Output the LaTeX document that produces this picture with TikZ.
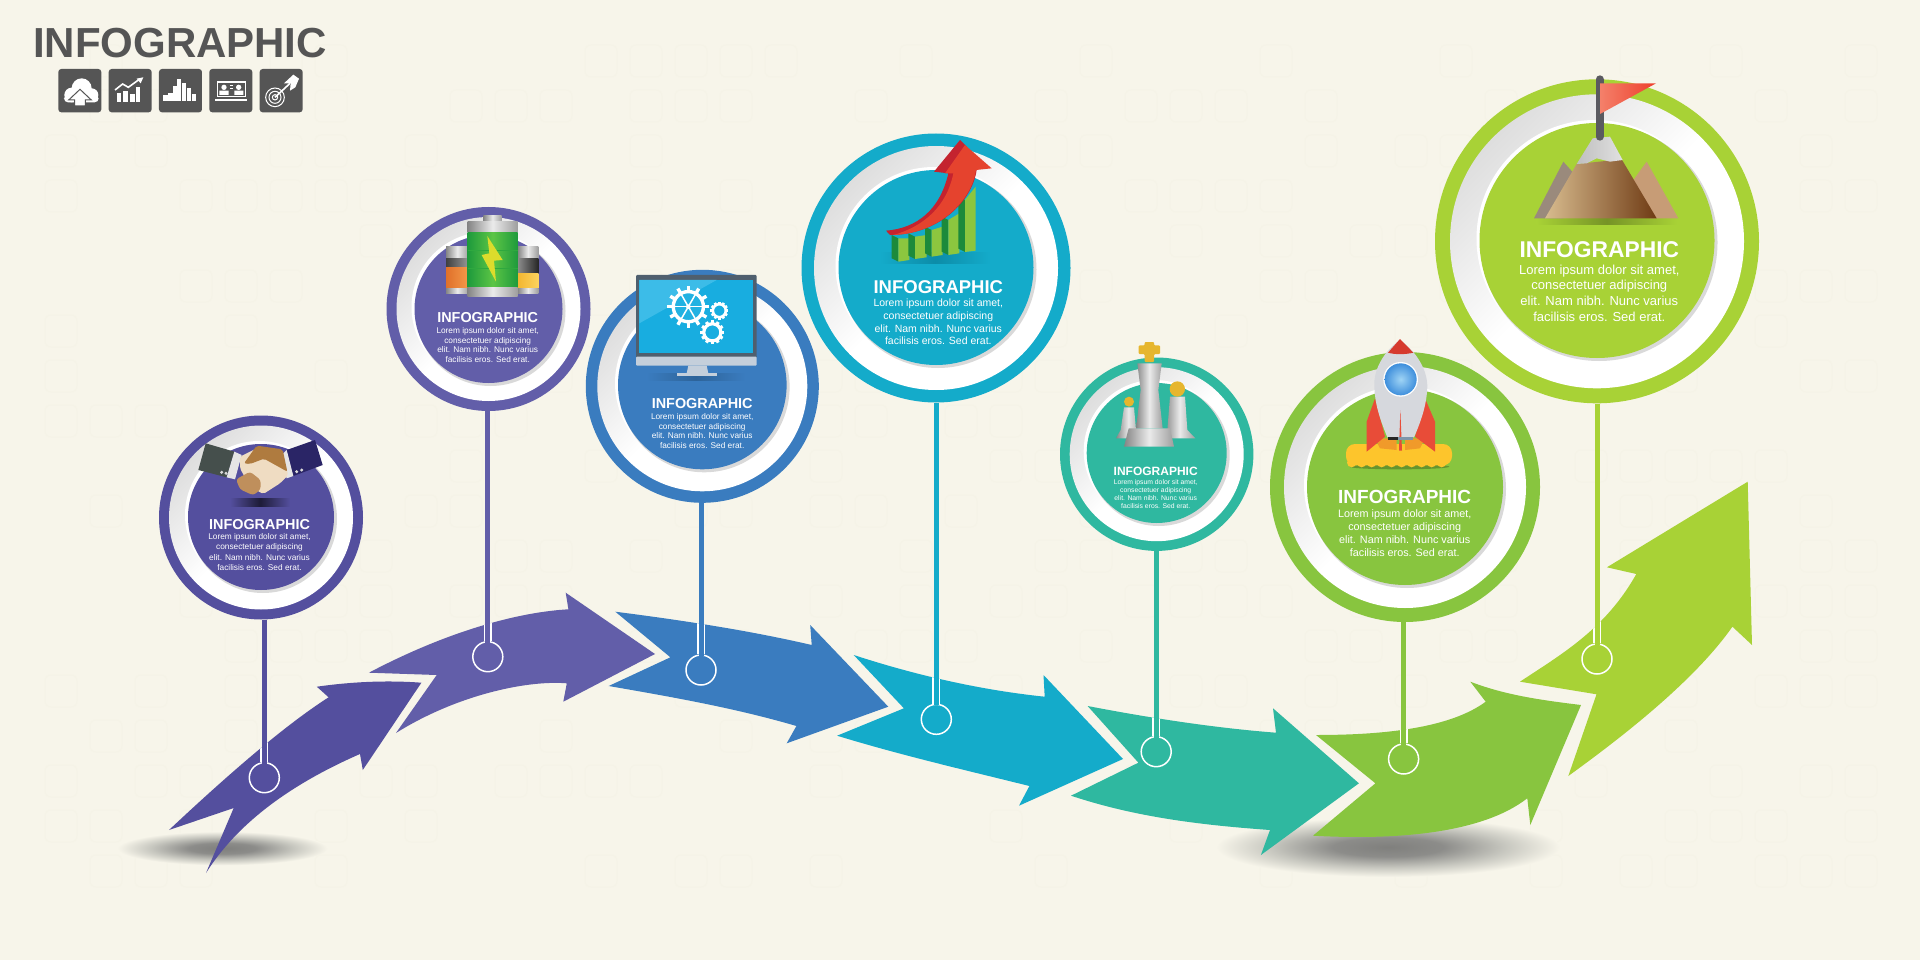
\documentclass[tikz,border=0pt]{standalone}
\usepackage{fontspec}
\setmainfont{Liberation Sans}
\usetikzlibrary{calc}
\definecolor{bgc}{HTML}{F7F5EA}
\definecolor{patc}{HTML}{F5F3E7}
\definecolor{iconc}{HTML}{555555}
\definecolor{colA}{HTML}{544F9E}
\definecolor{colB}{HTML}{625EA9}
\definecolor{colC}{HTML}{3A7CBF}
\definecolor{colD}{HTML}{14ABCA}
\definecolor{colE}{HTML}{2FB8A0}
\definecolor{colF}{HTML}{88C53F}
\definecolor{colG}{HTML}{A8D236}
\newcommand{\hc}[1]{\definecolor{h#1}{HTML}{#1}}
\hc{454F4C}\hc{2A2566}\hc{EFDCC2}\hc{AF7B3F}\hc{BF8F5C}\hc{E0702A}\hc{F49A4A}\hc{F2B630}\hc{FCD35E}\hc{1E9A3C}\hc{5CC545}\hc{2FA83F}\hc{DCDC2C}\hc{2D6399}\hc{C4CFDB}\hc{4F5F6E}\hc{18ADE0}\hc{3CBCE8}\hc{22B2E2}\hc{0C8CA8}\hc{1C8A3B}\hc{8CC63F}\hc{C4232F}\hc{E5432E}\hc{E6B62E}\hc{FDC52C}\hc{F09A2A}\hc{E84C38}\hc{D6D8DD}\hc{D63A2E}\hc{9FD4F5}\hc{3F8FDC}\hc{7E95AA}\hc{9A8A7C}\hc{C79C76}\hc{D8BC8F}\hc{9A6D3E}\hc{6F3B14}\hc{5A5A60}\hc{F4806A}\hc{EE3F2C}
\pgfdeclareradialshading{softshadow}{\pgfpointorigin}{rgb(0bp)=(0.50,0.50,0.49);rgb(8bp)=(0.55,0.55,0.54);rgb(17bp)=(0.78,0.78,0.75);rgb(25bp)=(0.969,0.961,0.918);rgb(50bp)=(0.969,0.961,0.918)}
\tikzset{
  disc/.style={circle,inner sep=0pt,fill=#1},
  endring/.style={circle,inner sep=0pt,minimum size=30pt,draw=white,line width=1.5pt,fill=#1},
  silver/.style={left color=black!48,right color=black!38,middle color=black!8},
  headtxt/.style={text=white,inner sep=0pt,align=center},
  squarebox/.style={fill=iconc,rounded corners=3pt},
}
\newcommand{\arrA}{(169,830)--(233.7,808)--(206,873) .. controls (237,824) and (289,785) .. (360,754)--(362.8,770)--(421.4,682.7) .. controls (385,680) and (350,682) .. (316.8,686.7)--(328.6,697.3) .. controls (287,724) and (234,769) .. cycle}
\newcommand{\arrB}{(368.9,672.7)--(436.7,675)--(396,733) .. controls (455,696) and (525,680) .. (566.8,683.3)--(563.3,701.7)--(655,654)--(565.7,592.7)--(568.4,609.3) .. controls (520,612) and (450,630) .. cycle}
\newcommand{\arrC}{(615.3,611.7)--(670.4,657.3)--(608.7,686) .. controls (672,697) and (735,708) .. (796.4,726)--(786.7,743.3)--(888.3,706.7)--(810.2,625)--(811.7,645) .. controls (747,630) and (680,620) .. cycle}
\newcommand{\arrD}{(853.7,655)--(903.9,708.3)--(837.1,735.7) .. controls (900,755) and (965,770) .. (1029.4,786)--(1019,805.7)--(1123,759)--(1043.5,675)--(1044.7,696.7) .. controls (980,690) and (915,675) .. cycle}
\newcommand{\arrE}{(1087.6,706)--(1138.4,762.7)--(1071,795.7) .. controls (1135,817) and (1200,825) .. (1270,830)--(1260.9,855)--(1358.9,783.3)--(1273,708.3)--(1276,732.7) .. controls (1215,728) and (1150,718) .. cycle}
\newcommand{\arrF}{(1316,735)--(1375.4,783.3)--(1313,835.7) .. controls (1390,840) and (1480,835) .. (1527.3,798.3)--(1530.3,825)--(1581,705) .. controls (1540,700) and (1505,695) .. (1470.3,681.7)--(1485.7,701.7) .. controls (1450,728) and (1385,735) .. cycle}
\newcommand{\arrG}{(1520,681.7)--(1596.5,694.3)--(1568.3,776) .. controls (1625,735) and (1695,680) .. (1732.4,626.7)--(1752,645)--(1747.7,481.7)--(1606.9,567.3)--(1636.3,574) .. controls (1605,630) and (1560,655) .. cycle}
% ring and disc: name, x, y, R outer, R white, R inner, colour, inner y
\newcommand{\cardring}[8]{%
  \node[disc=#7,minimum size=#4*2pt] (#1) at (#2,#3) {};
  \shade[top color=black!13,bottom color=white,middle color=white,shading angle=45] (#2,#3) circle (#5);
  \fill[white] (#2-2,#8-2) circle (#6+1);
  \fill[black!15] (#2+2,#8+2) circle (#6+1);
  \fill[#7] (#2,#8) circle (#6);
}
% texts: id, x, y head, size head, y body, size body, leading
\newcommand{\cardtext}[7]{%
  \node[headtxt,font={\bfseries\fontsize{#4}{#4}\selectfont}] (h#1) at (#2,#3) {INFOGRAPHIC};
  \node[text=white,inner sep=0pt,align=center,font={\fontsize{#6}{#7}\selectfont}] (b#1) at (#2,#5) {Lorem ipsum dolor sit amet,\\consectetuer adipiscing\\elit. Nam nibh. Nunc varius\\facilisis eros. Sed erat.};
}
\newcommand{\stem}[4]{%
  \begin{scope}\clip #4; \draw[white,line width=8pt] (#2.north |- #1.south) -- (#2.north); \end{scope}
  \draw[#3,line width=5pt,shorten >=-1.6pt] (#2.north |- #1.south) -- (#2.north);
}
% gear: x y r linewidth fill
\newcommand{\gear}[5]{%
  \foreach \a in {0,30,...,330}{\draw[white,line width=#4pt] ($(#1,#2)+(\a:#3*0.8)$) -- ($(#1,#2)+(\a:#3*1.08)$);}
  \draw[white,line width=#4pt,fill=#5] (#1,#2) circle (#3*0.78);
}
\begin{document}
\begin{tikzpicture}[x=1pt,y=-1pt]
\path[use as bounding box] (0,0) rectangle (1920,960);
\fill[bgc] (0,0) rectangle (1920,960);
% faint background pattern
\pgfmathsetseed{5}
\foreach \i in {1,...,41}{\foreach \j in {1,...,19}{%
  \pgfmathsetmacro{\rr}{rnd}
  \ifdim\rr pt<0.42pt
    \draw[patc,line width=1pt,rounded corners=6pt] (\i*45,\j*45) rectangle +(32,32);
  \fi}}
% floor shadows
\shade[shading=softshadow] (222.4,848.3) ellipse (105 and 17);
\shade[shading=softshadow] (1388,847) ellipse (172 and 30);
% arrows
\fill[colA] \arrA;
\fill[colB] \arrB;
\fill[colC] \arrC;
\fill[colD] \arrD;
\fill[colE] \arrE;
\fill[colF] \arrF;
\fill[colG] \arrG;
% end rings
\node[endring=colA] (e1) at (264.3,777.7) {};
\node[endring=colB] (e2) at (487.8,656.7) {};
\node[endring=colC] (e3) at (701,670) {};
\node[endring=colD] (e4) at (936.3,719.3) {};
\node[endring=colE] (e5) at (1156.2,751.7) {};
\node[endring=colF] (e6) at (1403.6,759) {};
\node[endring=colG] (e7) at (1597,659) {};
% circles
\cardring{c1}{261}{517.5}{102}{92}{73}{colA}{517}
\cardring{c2}{488.5}{309}{102}{92}{74}{colB}{309}
\cardring{c3}{702.3}{386.3}{116.5}{105}{84.3}{colC}{385}
\cardring{c4}{936}{268}{134.5}{122}{97.5}{colD}{267.5}
\cardring{c5}{1156.7}{454.2}{96.7}{87}{70}{colE}{453}
\cardring{c6}{1405}{487}{135}{121}{98}{colF}{487}
\cardring{c7}{1597}{241.3}{162}{147}{117.5}{colG}{240.5}
% stems
\stem{c1}{e1}{colA}{\arrA}
\stem{c2}{e2}{colB}{\arrB}
\stem{c3}{e3}{colC}{\arrC}
\stem{c4}{e4}{colD}{\arrD}
\stem{c5}{e5}{colE}{\arrE}
\stem{c6}{e6}{colF}{\arrF}
\stem{c7}{e7}{colG}{\arrG}
% card texts
\cardtext{1}{259.5}{525}{14.4}{552}{8.3}{10.2}
\cardtext{2}{487.7}{318}{14.4}{345}{8.3}{9.8}
\cardtext{3}{702.2}{404}{14.4}{431}{8.3}{9.8}
\cardtext{4}{938.3}{286.7}{18.5}{322}{10.5}{12.6}
\cardtext{5}{1155.7}{471.3}{12}{494}{6.8}{8.1}
\cardtext{6}{1404.7}{497.3}{19}{533}{10.8}{13}
\cardtext{7}{1599.3}{250}{22.8}{293}{13}{15.7}
% title
\node[text=iconc,inner sep=0pt,xscale=1.0,font={\bfseries\fontsize{42}{42}\selectfont}] (title) at (180,43) {INFOGRAPHIC};
% small square icons (coordinates of the 3x crop)
\begin{scope}[scale=0.33333]
  \foreach \q in {175,326,477,628,779}{\fill[squarebox] (\q,207) rectangle +(129,130);}
  % cloud
  \fill[white] (215,285) circle (22) (245,265) circle (30) (275,285) circle (20);
  \fill[white,rounded corners=4pt] (192,285) rectangle (296,307);
  \fill[white,draw=iconc,line width=1pt] (240,268)--(274,300)--(256,300)--(256,318)--(224,318)--(224,300)--(206,300)--cycle;
  % chart
  \foreach \x/\t in {350/280,370/272,391/282,408/262}{\fill[white] (\x,\t) rectangle (\x+13,306);}
  \draw[white,line width=1.6pt] (345,270)--(368,252)--(385,262)--(418,238);
  \fill[white] (430,232)--(410,236)--(422,250)--cycle;
  % bars
  \foreach \x/\t in {490/284,505/278,520/258,531/236,546/248,561/264,576/282}{\fill[white] (\x,\t) rectangle (\x+13,302);}
  % laptop
  \draw[white,line width=1.2pt] (652,246) rectangle (736,290);
  \fill[white] (644,296) rectangle (742,303);
  \fill[white] (672,262) circle (8) (716,262) circle (8);
  \fill[white] (658,285) rectangle (686,272) (703,285) rectangle (730,272);
  \draw[white,line width=1pt] (690,258)--(700,258) (690,266)--(700,266);
  % target
  \foreach \r in {28,18,8}{\draw[white,line width=1pt] (825,292) circle (\r);}
  \draw[white,line width=1.6pt] (825,292)--(870,250);
  \fill[white] (852,250)--(880,224)--(897,236)--(886,262)--(870,272)--(872,250)--cycle;
\end{scope}
% handshake
\begin{scope}[shift={(140,400)},scale=0.33333]
  \shade[left color=colA,right color=colA,middle color=black!65!colA] (270,296) rectangle (450,318);
  \fill[h454F4C] (197,130)--(283,155)--(260,232)--(175,210)--cycle;
  \fill[h2A2566] (525,120)--(548,195)--(460,228)--(440,150)--cycle;
  \fill[white!90!black] (283,155)--(305,165)--(285,238)--(260,232)--cycle;
  \fill[white!90!black] (440,150)--(460,228)--(440,235)--(420,170)--cycle;
  \fill[white!85!black] (245,217) circle (5) (258,220) circle (5) (470,215) circle (5) (485,210) circle (5);
  \fill[hEFDCC2,rounded corners=2pt] (300,170)--(350,145)--(425,160)--(445,225)--(420,250)--(370,282)--(330,260)--(300,205)--cycle;
  \fill[hAF7B3F,rounded corners=2pt] (312,190)--(350,137)--(428,148)--(442,215)--(372,176)--(330,192)--cycle;
  \fill[hBF8F5C,rounded corners=3pt] (288,238)--(330,215)--(362,240)--(362,268)--(340,286)--(300,268)--cycle;
\end{scope}
% batteries
\begin{scope}[shift={(370,190)},scale=0.33333]
  \shade[silver] (228,170) rectangle (296,205);
  \shade[left color=black!75,right color=black!40] (228,205) rectangle (296,232);
  \shade[left color=hE0702A,right color=hF49A4A] (228,232) rectangle (296,295);
  \shade[silver] (228,295) rectangle (296,312);
  \shade[silver] (443,170) rectangle (505,205);
  \shade[left color=black!45,right color=black!85] (443,205) rectangle (505,250);
  \shade[left color=hF2B630,right color=hFCD35E] (443,250) rectangle (505,295);
  \shade[silver] (443,295) rectangle (505,312);
  \shade[silver] (340,76) rectangle (395,100);
  \shade[silver] (293,95) rectangle (443,127);
  \shade[left color=h1E9A3C,right color=h1E9A3C,middle color=h5CC545] (293,127) rectangle (443,292);
  \draw[h2FA83F,line width=0.7pt] (293,180)--(443,180) (293,235)--(443,235);
  \fill[hDCDC2C] (352,138)--(398,210)--(372,212)--(378,275)--(335,195)--(358,190)--cycle;
  \shade[silver] (293,292) rectangle (443,320);
\end{scope}
% monitor
\begin{scope}[shift={(370,190)},scale=0.33333]
  \shade[left color=colC,right color=colC,middle color=h2D6399] (830,552) rectangle (1125,572);
  \fill[hC4CFDB] (955,527)--(1010,527)--(1015,550)--(950,550)--cycle;
  \fill[hC4CFDB] (920,550) rectangle (1040,558);
  \fill[h4F5F6E,rounded corners=1pt] (798,255) rectangle (1160,505);
  \fill[hC4CFDB,rounded corners=1pt] (798,500) rectangle (1160,527);
  \fill[h18ADE0] (808,270) rectangle (1150,490);
  \fill[h3CBCE8] (808,270)--(1040,270)--(808,400)--cycle;
  \gear{1048}{362}{25}{2.6}{h18ADE0}
  \gear{1027}{427}{33}{3.2}{h18ADE0}
  \gear{955}{350}{58}{3.4}{h22B2E2}
  \foreach \a in {0,60,120}{\draw[white,line width=1.5pt] ($(955,350)+(\a:45)$) -- ($(955,350)+(\a+180:45)$);}
  \fill[white] (955,350) circle (7);
\end{scope}
% rising arrow and bars
\begin{scope}[shift={(790,120)},scale=0.33333]
  \shade[left color=colD,right color=colD,middle color=h0C8CA8] (270,398) rectangle (600,430);
  \foreach \l/\r/\a/\b/\c/\d in {325/358/355/355/425/420,375/410/350/345/417/412,425/458/330/320/410/405,475/508/300/280/405/400,525/557/240/200/396/392}{
    \fill[h1C8A3B] (\l-20,\a-10)--(\l,\a)--(\l,\c)--(\l-20,\c-10)--cycle;
    \fill[h8CC63F] (\l,\a)--(\r,\b)--(\r,\d)--(\l,\c)--cycle;
  }
  \fill[hC4232F] (288,332) .. controls (380,325) and (450,270) .. (475,160)--(432,155)--(510,60)--(530,80)--(560,150) .. controls (545,250) and (440,345) .. (300,345)--cycle;
  \fill[hE5432E] (310,345) .. controls (400,320) and (470,260) .. (490,160)--(465,160)--(525,75)--(605,145)--(558,150) .. controls (545,240) and (450,340) .. cycle;
\end{scope}
% chess pieces
\begin{scope}[shift={(1050,330)},scale=0.33333]
  \shade[silver] (222,232)--(252,232)--(258,300)--(272,325)--(198,325)--(212,300)--cycle;
  \fill[hE6B62E] (237,215) circle (15);
  \shade[silver] (360,200)--(405,200)--(412,300)--(436,325)--(342,325)--(352,300)--cycle;
  \fill[hE6B62E] (382,177) circle (23);
  \shade[silver] (262,100)--(335,100)--(325,180)--(338,295)--(258,295)--(272,180)--cycle;
  \shade[silver] (236,295)--(360,295)--(372,350)--(222,350)--cycle;
  \fill[hE6B62E,rounded corners=1pt] (284,36)--(312,36)--(312,46)--(330,46)--(330,72)--(312,72)--(312,96)--(284,96)--(284,72)--(266,72)--(266,46)--(284,46)--cycle;
\end{scope}
% rocket
\begin{scope}[shift={(1050,330)},scale=0.33333]
  \fill[black!25!colF] (1048,410) ellipse (150 and 8);
  \fill[hFDC52C,rounded corners=9pt] (888,342) rectangle (1206,406);
  \foreach \x in {905,935,965,995,1025,1055,1085,1115,1145,1175}{\fill[hFDC52C] (\x,398) circle (14);}
  \fill[hF09A2A] (975,325)--(1040,325)--(1040,360)--(990,355)--cycle;
  \fill[hF09A2A] (1065,325)--(1125,325)--(1110,355)--(1065,360)--cycle;
  \fill[hE84C38] (975,205)--(1005,320)--(950,365)--(950,275)--cycle;
  \fill[hE84C38] (1125,205)--(1095,320)--(1155,365)--(1155,275)--cycle;
  \fill[hD6D8DD] (1050,30) .. controls (1000,65) and (970,120) .. (973,170) .. controls (975,230) and (995,280) .. (1012,322)--(1092,322) .. controls (1110,280) and (1130,230) .. (1132,170) .. controls (1132,120) and (1100,65) .. cycle;
  \fill[hD63A2E] (1050,27)--(1090,68) .. controls (1065,74) and (1035,74) .. (1014,68)--cycle;
  \fill[white] (1052,148) circle (52);
  \shade[inner color=h9FD4F5,outer color=h3F8FDC] (1052,148) circle (48);
  \fill[hE84C38] (1051,240)--(1056,362)--(1047,362)--cycle;
  \fill[black!85] (1015,320) rectangle (1045,331);
  \fill[h7E95AA] (1045,320) rectangle (1090,331);
\end{scope}
% mountain and flag
\begin{scope}[shift={(1420,60)},scale=0.33333]
  \shade[left color=colG,right color=colG,middle color=black!30!colG] (350,475) rectangle (770,495);
  \fill[h9A8A7C] (342,475)--(430,305)--(470,350)--(430,475)--cycle;
  \fill[hC79C76] (680,305)--(775,475)--(690,475)--(640,360)--cycle;
  \shade[left color=hD8BC8F,middle color=h9A6D3E,right color=h6F3B14] (375,475)--(470,312)--(605,298)--(710,475)--cycle;
  \shade[left color=black!25,middle color=black!45,right color=black!12] (470,312)--(518,235)--(570,230)--(608,300)--(570,305)--(530,295)--(500,310)--cycle;
  \draw[h5A5A60,line width=8pt,line cap=round] (539,58)--(539,230);
  \shade[left color=hF4806A,right color=hEE3F2C] (540,70)--(708,70)--(540,162)--cycle;
\end{scope}
\end{tikzpicture}
\end{document}
